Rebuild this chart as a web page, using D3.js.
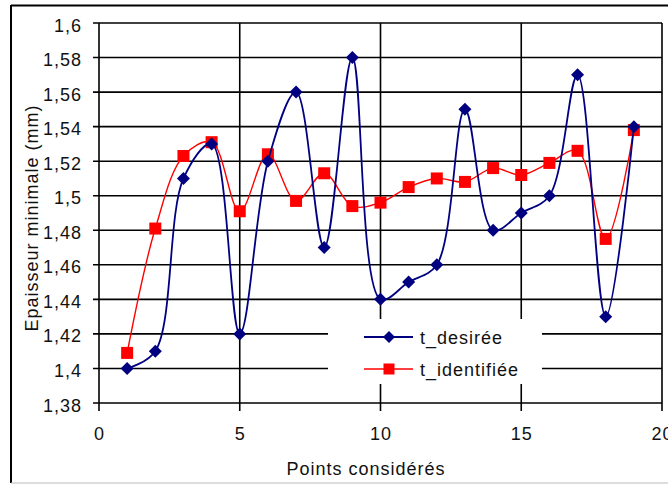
<!DOCTYPE html>
<html><head><meta charset="utf-8">
<script src="https://cdn.jsdelivr.net/npm/d3@7/dist/d3.min.js"></script>
<style>
html,body{margin:0;padding:0;background:#fff;}
svg{display:block;font-family:"Liberation Sans",Arial,sans-serif;}
</style></head>
<body>
<svg id="chart" width="668" height="484"></svg>
<script>
const points = [1,2,3,4,5,6,7,8,9,10,11,12,13,14,15,16,17,18,19];
const tDesiree = [1.40,1.41,1.51,1.53,1.42,1.52,1.56,1.47,1.58,1.44,1.45,1.46,1.55,1.48,1.49,1.50,1.57,1.43,1.54];
const tIdentifiee = [1.409,1.481,1.523,1.531,1.491,1.524,1.497,1.513,1.494,1.496,1.505,1.510,1.508,1.516,1.512,1.519,1.526,1.475,1.538];
const yTicks = [1.38,1.40,1.42,1.44,1.46,1.48,1.50,1.52,1.54,1.56,1.58,1.60];
const yTickLabels = ["1,38","1,4","1,42","1,44","1,46","1,48","1,5","1,52","1,54","1,56","1,58","1,6"];
const xTicks = [0,5,10,15,20];
const xTickLabels = ["0","5","10","15","20"];
const seriesNames = ["t_desirée","t_identifiée"];

const svg = d3.select("#chart");
const L = 99, R = 662, T = 23, B = 403;
const x = d3.scaleLinear().domain([0,20]).range([L,R]);
const y = d3.scaleLinear().domain([1.38,1.6]).range([B,T]);

// outer frame
svg.append("line").attr("x1",11).attr("x2",668).attr("y1",5.5).attr("y2",5.5).attr("stroke","#000").attr("stroke-width",2);
svg.append("line").attr("x1",11).attr("x2",11).attr("y1",5).attr("y2",483).attr("stroke","#000").attr("stroke-width",2);
svg.append("line").attr("x1",11).attr("x2",668).attr("y1",483).attr("y2",483).attr("stroke","#bbb").attr("stroke-width",1);

const grid = svg.append("g");
grid.selectAll("line.h").data(yTicks).join("line")
  .attr("x1",L-6).attr("x2",R).attr("y1",d=>y(d)).attr("y2",d=>y(d))
  .attr("stroke","#000").attr("stroke-width",1.6);
grid.selectAll("line.v").data(xTicks).join("line")
  .attr("x1",d=>x(d)).attr("x2",d=>x(d)).attr("y1",T).attr("y2",B+8)
  .attr("stroke","#000").attr("stroke-width",1.6);

svg.append("g").selectAll("text").data(yTicks).join("text")
  .attr("x",82).attr("y",d=>y(d)+8.5).attr("text-anchor","end")
  .attr("font-size",18).attr("letter-spacing",1).attr("fill","#111")
  .text((d,i)=>yTickLabels[i]);
svg.append("g").selectAll("text").data(xTicks).join("text")
  .attr("x",d=>x(d)+0.5).attr("y",440).attr("text-anchor","middle")
  .attr("font-size",18).attr("letter-spacing",1).attr("fill","#111")
  .text((d,i)=>xTickLabels[i]);

svg.append("text").attr("x",366).attr("y",475).attr("text-anchor","middle")
  .attr("font-size",18).attr("letter-spacing",1).attr("fill","#111").text("Points considérés");
svg.append("text").attr("transform","translate(38,218) rotate(-90)").attr("text-anchor","middle")
  .attr("font-size",18).attr("letter-spacing",1).attr("fill","#111").text("Epaisseur minimale (mm)");

const lineGen = d3.line().x((d,i)=>x(points[i])).y(d=>y(d)).curve(d3.curveCatmullRom.alpha(0.5));

const diamond = (cx,cy,s)=>`M${cx},${cy-s}L${cx+s},${cy}L${cx},${cy+s}L${cx-s},${cy}Z`;

const lg = svg.append("g");
lg.append("rect").attr("x",328).attr("y",319).attr("width",214).attr("height",65).attr("fill","#fff");

svg.append("path").datum(tIdentifiee).attr("d",lineGen).attr("fill","none").attr("stroke","#ff0000").attr("stroke-width",1.4);
svg.append("g").selectAll("rect").data(tIdentifiee).join("rect")
  .attr("x",(d,i)=>x(points[i])-6).attr("y",d=>y(d)-6).attr("width",12).attr("height",12).attr("fill","#ff0000");

svg.append("path").datum(tDesiree).attr("d",lineGen).attr("fill","none").attr("stroke","#000080").attr("stroke-width",1.8);
svg.append("g").selectAll("path").data(tDesiree).join("path")
  .attr("d",(d,i)=>diamond(x(points[i]),y(d),6.5)).attr("fill","#000080");

const items = [
  {name:seriesNames[0], color:"#000080", y:337, shape:"diamond", w:1.8},
  {name:seriesNames[1], color:"#ff0000", y:369, shape:"square", w:1.4}
];
items.forEach(it=>{
  lg.append("line").attr("x1",364).attr("x2",413).attr("y1",it.y).attr("y2",it.y).attr("stroke",it.color).attr("stroke-width",it.w);
  if(it.shape==="diamond") lg.append("path").attr("d",diamond(389,it.y,6)).attr("fill",it.color);
  else lg.append("rect").attr("x",383.5).attr("y",it.y-5.5).attr("width",11).attr("height",11).attr("fill",it.color);
  lg.append("text").attr("x",420).attr("y",it.y+6.5).attr("font-size",18).attr("letter-spacing",1).attr("fill","#111").text(it.name);
});
</script>
</body></html>
